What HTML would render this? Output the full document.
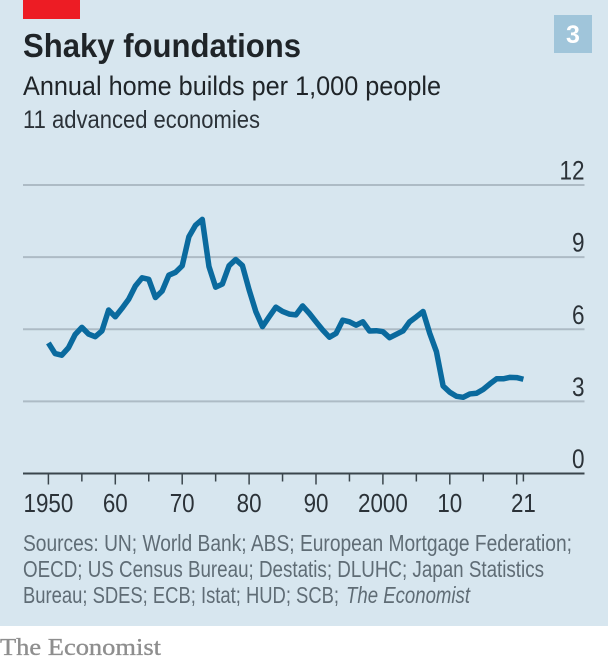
<!DOCTYPE html>
<html lang="en">
<head>
<meta charset="utf-8">
<title>Shaky foundations</title>
<style>
html,body{margin:0;padding:0;background:#fff;width:608px;height:662px;overflow:hidden}
svg{display:block}
text{font-family:"Liberation Sans",sans-serif}
</style>
</head>
<body>
<svg id="chart" xmlns="http://www.w3.org/2000/svg" width="608" height="662" viewBox="0 0 608 662">
  <rect x="0" y="0" width="608" height="626" fill="#d7e6ef"/>
  <rect x="23" y="0" width="57" height="19" fill="#ed1c24"/>
  <rect x="554" y="15" width="38" height="38" fill="#a0c5da"/>
  <text x="573" y="43" text-anchor="middle" font-size="25" font-weight="700" fill="#ffffff">3</text>
  <text x="23" y="57" font-size="33" font-weight="700" fill="#1f2428" textLength="278" lengthAdjust="spacingAndGlyphs">Shaky foundations</text>
  <text x="23" y="95" font-size="27" fill="#1f2428" textLength="418" lengthAdjust="spacingAndGlyphs">Annual home builds per 1,000 people</text>
  <text x="23" y="128" font-size="25" fill="#2b3238" textLength="237" lengthAdjust="spacingAndGlyphs">11 advanced economies</text>
  <g id="grid"></g>
  <g id="yLabels"></g>
  <g id="xAxis"></g>
  <path id="series" fill="none" stroke="#0a6a9e" stroke-width="5.5" stroke-linejoin="round" stroke-linecap="butt"/>
  <text x="23" y="551" font-size="23" fill="#5f6c75" textLength="549" lengthAdjust="spacingAndGlyphs">Sources: UN; World Bank; ABS; European Mortgage Federation;</text>
  <text x="23" y="577" font-size="23" fill="#5f6c75" textLength="521" lengthAdjust="spacingAndGlyphs">OECD; US Census Bureau; Destatis; DLUHC; Japan Statistics</text>
  <text x="23" y="603" font-size="23" fill="#5f6c75" textLength="316" lengthAdjust="spacingAndGlyphs">Bureau; SDES; ECB; Istat; HUD; SCB;</text>
  <text x="346" y="603" font-size="23" font-style="italic" fill="#5f6c75" textLength="124" lengthAdjust="spacingAndGlyphs">The Economist</text>
  <text x="0" y="655" font-size="24" style="font-family:'Liberation Serif',serif" fill="#8e8e8e" stroke="#8e8e8e" stroke-width="0.35" textLength="161" lengthAdjust="spacingAndGlyphs">The Economist</text>
</svg>
<script>
var startYear = 1950;
var buildsPerThousand = [
  5.43,4.99,4.92,5.23,5.78,6.08,5.80,5.69,5.93,6.80,
  6.52,6.87,7.25,7.80,8.14,8.08,7.32,7.59,8.25,8.37,
  8.64,9.85,10.33,10.57,8.61,7.75,7.88,8.64,8.90,8.65,
  7.64,6.74,6.11,6.52,6.92,6.74,6.63,6.60,6.97,6.66,
  6.31,5.97,5.67,5.83,6.38,6.31,6.17,6.31,5.93,5.94,
  5.90,5.65,5.79,5.93,6.31,6.52,6.74,5.83,5.07,3.64,
  3.38,3.21,3.17,3.31,3.34,3.50,3.73,3.94,3.94,4.00,3.99,3.92
];
var yTicks = [0, 3, 6, 9, 12];
var yLabelsText = ["0", "3", "6", "9", "12"];
var xMajorTicks = [1950, 1960, 1970, 1980, 1990, 2000, 2010, 2020];
var xMinorTicks = [1955, 1965, 1975, 1985, 1995, 2005, 2015, 2021];
var xLabelYears = [1950, 1960, 1970, 1980, 1990, 2000, 2010, 2021];
var xLabelsText = ["1950", "60", "70", "80", "90", "2000", "10", "21"];

var NS = "http://www.w3.org/2000/svg";
function xScale(year) { return 48.4 + (year - 1950) * 6.69; }
function yScale(v) { return 473.5 - v * 24.04; }
function mk(tag, attrs, parent) {
  var el = document.createElementNS(NS, tag);
  for (var k in attrs) el.setAttribute(k, attrs[k]);
  parent.appendChild(el);
  return el;
}
var grid = document.getElementById("grid");
var yLabels = document.getElementById("yLabels");
var xAxis = document.getElementById("xAxis");

yTicks.forEach(function (t, i) {
  if (t !== 0) {
    var line = mk("line", {x1: 23, x2: 584.5, y1: yScale(t), y2: yScale(t), stroke: "#adbbc5", "stroke-width": 2}, grid);
    
    
  }
  var label = mk("text", {x: 584.5, y: yScale(t) - 5.5, "text-anchor": "end", "font-size": 26.5, fill: "#2b3238"}, yLabels);
  label.textContent = yLabelsText[i];
  
  
  label.setAttribute('textLength', label.getComputedTextLength() * 0.85);
  label.setAttribute('lengthAdjust', 'spacingAndGlyphs');
});

var axisLine = mk("line", {x1: 23, x2: 584.5, y1: yScale(0), y2: yScale(0), stroke: "#3a454c", "stroke-width": 2}, xAxis);



xMajorTicks.forEach(function (yr) {
  var tick = mk("line", {x1: xScale(yr), x2: xScale(yr), y1: yScale(0), y2: yScale(0) + 11, stroke: "#3a454c", "stroke-width": 1.5}, xAxis);
  
  
});
xMinorTicks.forEach(function (yr) {
  var tick = mk("line", {x1: xScale(yr), x2: xScale(yr), y1: yScale(0), y2: yScale(0) + 8, stroke: "#3a454c", "stroke-width": 1.5}, xAxis);
  
  
});
xLabelYears.forEach(function (yr, i) {
  var label = mk("text", {x: xScale(yr), y: 512, "text-anchor": "middle", "font-size": 26, fill: "#2b3238"}, xAxis);
  label.textContent = xLabelsText[i];
  
  
  label.setAttribute('textLength', label.getComputedTextLength() * 0.86);
  label.setAttribute('lengthAdjust', 'spacingAndGlyphs');
});

var d = buildsPerThousand.map(function (v, i) {
  return (i ? "L" : "M") + xScale(startYear + i).toFixed(2) + " " + yScale(v).toFixed(2);
}).join(" ");
document.getElementById("series").setAttribute("d", d);
</script>
</body>
</html>
